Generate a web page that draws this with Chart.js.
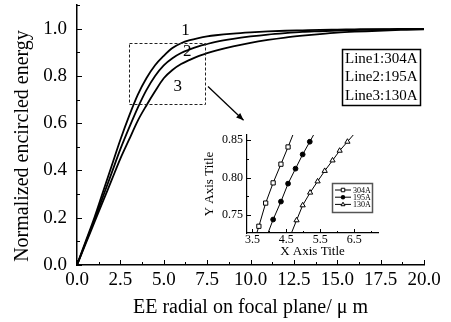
<!DOCTYPE html>
<html><head><meta charset="utf-8">
<script src="https://cdn.jsdelivr.net/npm/chart.js@4.4.1/dist/chart.umd.min.js"></script>
<style>
html,body{margin:0;padding:0;background:#fff;}
#wrap{position:relative;width:451px;height:322px;overflow:hidden;}
#main{position:absolute;left:0;top:0;}
#inset{position:absolute;left:195px;top:125px;}
</style></head><body>
<div id="wrap"><canvas id="main" width="451" height="322"></canvas><canvas id="inset" width="200" height="135"></canvas></div>
<script>
// ---------- data ----------
const RADIUS = [0,0.5,1,1.5,2,2.5,3,3.5,4,4.5,5,5.5,6,6.5,7,7.5,8,9,10,11,12,13,14,15,16,17,18,19,20];
const EE_304 = [0,0.10,0.20,0.31,0.42,0.53,0.63,0.72,0.79,0.845,0.885,0.918,0.938,0.951,0.96,0.967,0.972,0.979,0.984,0.988,0.991,0.993,0.995,0.996,0.997,0.998,0.998,0.999,0.999];
const EE_195 = [0,0.095,0.19,0.29,0.39,0.49,0.58,0.665,0.74,0.80,0.845,0.875,0.897,0.912,0.925,0.935,0.944,0.957,0.967,0.975,0.981,0.986,0.989,0.992,0.994,0.996,0.997,0.998,0.999];
const EE_130 = [0,0.09,0.18,0.27,0.36,0.45,0.53,0.61,0.675,0.735,0.79,0.825,0.85,0.868,0.884,0.896,0.907,0.925,0.94,0.952,0.962,0.97,0.977,0.983,0.987,0.99,0.993,0.995,0.997];
const SERIES_NAMES = ['Line1:304A','Line2:195A','Line3:130A'];
const CURVE_LABELS = ['1','2','3'];
const X_TICKS = ['0.0','2.5','5.0','7.5','10.0','12.5','15.0','17.5','20.0'];
const Y_TICKS = ['0.0','0.2','0.4','0.6','0.8','1.0'];
const X_TITLE = 'EE radial on focal plane/ \u03bc m';
const Y_TITLE = 'Normalized encircled energy';

// inset (zoomed view)
const INSET_X_304 = [3.63,3.69,3.89,4.11,4.34,4.55,4.69];
const INSET_Y_304 = [0.726,0.735,0.766,0.793,0.818,0.841,0.857];
const INSET_X_195 = [3.96,4.11,4.34,4.55,4.77,4.98,5.19,5.30];
const INSET_Y_195 = [0.726,0.744,0.768,0.792,0.812,0.831,0.848,0.857];
const INSET_X_130 = [4.65,4.80,4.98,5.20,5.42,5.63,5.86,6.07,6.30,6.47];
const INSET_Y_130 = [0.726,0.743,0.763,0.780,0.795,0.809,0.823,0.836,0.848,0.857];
const INSET_NAMES = ['304A','195A','130A'];
const INSET_X_TICKS = ['3.5','4.5','5.5','6.5'];
const INSET_Y_TICKS = ['0.75','0.80','0.85'];
const INSET_X_TITLE = 'X Axis Title';
const INSET_Y_TITLE = 'Y Axis Title';

// annotation anchors in data units
const ZOOM_BOX = {x0:3.0, x1:7.4, y0:0.68, y1:0.94};
const ARROW = {x0:7.55, y0:0.755, x1:9.6, y1:0.612};
const LABEL_POS = [[6.25,0.99],[6.35,0.905],[5.8,0.755]];

// ---------- helpers ----------
const FONT = "'Liberation Serif','Times New Roman',serif";
const pts = (xs, ys) => xs.map((x,i)=>({x, y:ys[i]}));
const noPad = s => { s.paddingTop=0; s.paddingBottom=0; s.paddingLeft=0; s.paddingRight=0; };

function drawMarker(ctx, style, x, y, r){
  ctx.beginPath();
  if(style==='circle'){ ctx.arc(x,y,r,0,Math.PI*2); ctx.fillStyle='#000'; ctx.fill(); }
  else if(style==='rect'){ ctx.rect(x-r*0.8,y-r*0.8,r*1.6,r*1.6); ctx.fillStyle='#fff'; ctx.fill(); ctx.stroke(); }
  else { ctx.moveTo(x,y-r); ctx.lineTo(x+r*0.9,y+r*0.6); ctx.lineTo(x-r*0.9,y+r*0.6); ctx.closePath(); ctx.fillStyle='#fff'; ctx.fill(); ctx.stroke(); }
}

function ticksPlugin(id, xMaj, yMaj, majLen, minLen){
  return { id, afterDraw(chart){
    const ctx=chart.ctx, xs=chart.scales.x, ys=chart.scales.y, a=chart.chartArea;
    ctx.save(); ctx.strokeStyle='#000'; ctx.lineWidth=1; ctx.beginPath();
    const xv = xMaj.map(parseFloat), yv = yMaj.map(parseFloat);
    const xstep = xv[1]-xv[0], ystep = yv[1]-yv[0];
    for(let v=xv[0]-xstep; v<=xs.max+1e-9; v+=xstep/2){
      if(v<xs.min-1e-9) continue;
      const major = xv.some(t=>Math.abs(t-v)<1e-6);
      const p=Math.round(xs.getPixelForValue(v))+0.5;
      ctx.moveTo(p,a.bottom); ctx.lineTo(p,a.bottom-(major?majLen:minLen));
    }
    for(let v=yv[0]-ystep; v<=ys.max+1e-9; v+=ystep/2){
      if(v<ys.min-1e-9) continue;
      const major = yv.some(t=>Math.abs(t-v)<1e-6);
      const p=Math.round(ys.getPixelForValue(v))+0.5;
      ctx.moveTo(a.left,p); ctx.lineTo(a.left+(major?majLen:minLen),p);
    }
    ctx.stroke(); ctx.restore();
  }};
}

const annoPlugin = { id:'anno', afterDraw(chart){
  const ctx=chart.ctx, xs=chart.scales.x, ys=chart.scales.y;
  ctx.save();
  ctx.strokeStyle='#222'; ctx.lineWidth=1; ctx.setLineDash([3,2]);
  const bx0=xs.getPixelForValue(ZOOM_BOX.x0), bx1=xs.getPixelForValue(ZOOM_BOX.x1);
  const by0=ys.getPixelForValue(ZOOM_BOX.y0), by1=ys.getPixelForValue(ZOOM_BOX.y1);
  ctx.strokeRect(Math.round(bx0)+0.5, Math.round(by1)+0.5, Math.round(bx1-bx0), Math.round(by0-by1));
  ctx.setLineDash([]);
  const ax0=xs.getPixelForValue(ARROW.x0), ay0=ys.getPixelForValue(ARROW.y0);
  const ax1=xs.getPixelForValue(ARROW.x1), ay1=ys.getPixelForValue(ARROW.y1);
  ctx.lineWidth=1.3; ctx.strokeStyle='#000'; ctx.beginPath(); ctx.moveTo(ax0,ay0); ctx.lineTo(ax1,ay1); ctx.stroke();
  const ang=Math.atan2(ay1-ay0, ax1-ax0), L=8, W=0.38;
  ctx.beginPath(); ctx.moveTo(ax1,ay1);
  ctx.lineTo(ax1-L*Math.cos(ang-W), ay1-L*Math.sin(ang-W));
  ctx.lineTo(ax1-L*Math.cos(ang+W), ay1-L*Math.sin(ang+W));
  ctx.closePath(); ctx.fillStyle='#000'; ctx.fill();
  ctx.font='17px '+FONT; ctx.textAlign='center'; ctx.textBaseline='middle'; ctx.fillStyle='#000';
  LABEL_POS.forEach((p,i)=>ctx.fillText(CURVE_LABELS[i], xs.getPixelForValue(p[0]), ys.getPixelForValue(p[1])));
  // main legend
  ctx.lineWidth=1.5; ctx.strokeStyle='#000'; ctx.strokeRect(342.5,49.5,78,56);
  ctx.font='15px '+FONT; ctx.textAlign='left';
  SERIES_NAMES.forEach((s,i)=>ctx.fillText(s, 345, 59+i*18.5));
  // y-axis title
  ctx.translate(23,146); ctx.rotate(-Math.PI/2);
  ctx.font='20px '+FONT; ctx.textAlign='center'; ctx.textBaseline='middle';
  ctx.fillText(Y_TITLE,0,0);
  ctx.restore();
}};

const baseLine = {borderColor:'#000', borderWidth:1.8, pointRadius:0, fill:false, cubicInterpolationMode:'monotone'};

new Chart(document.getElementById('main'), {
  type:'line',
  data:{datasets:[
    {...baseLine, label:SERIES_NAMES[0], data:pts(RADIUS,EE_304)},
    {...baseLine, label:SERIES_NAMES[1], data:pts(RADIUS,EE_195)},
    {...baseLine, label:SERIES_NAMES[2], data:pts(RADIUS,EE_130)}
  ]},
  options:{
    responsive:false, animation:false, events:[],
    layout:{padding:{left:0,right:27,top:5,bottom:0}},
    plugins:{legend:{display:false}, tooltip:{enabled:false}},
    scales:{
      x:{type:'linear', min:0, max:20,
        afterBuildTicks:s=>{s.ticks=X_TICKS.map(t=>({value:parseFloat(t)}));},
        afterFit:s=>{s.height=57; noPad(s);},
        grid:{display:false, drawTicks:false}, border:{display:true,color:'#000',width:1.5},
        ticks:{color:'#000', font:{family:FONT,size:19}, padding:4, maxRotation:0, autoSkip:false, callback:(v,i)=>X_TICKS[i]},
        title:{display:true, text:X_TITLE, color:'#000', font:{family:FONT,size:20}, padding:{top:0,bottom:2}}},
      y:{type:'linear', min:0, max:1.1,
        afterBuildTicks:s=>{s.ticks=Y_TICKS.map(t=>({value:parseFloat(t)}));},
        afterFit:s=>{s.width=77; noPad(s);},
        grid:{display:false, drawTicks:false}, border:{display:true,color:'#000',width:1.5},
        ticks:{color:'#000', font:{family:FONT,size:19}, padding:10, autoSkip:false, callback:(v,i)=>Y_TICKS[i]},
        title:{display:false, text:Y_TITLE}}
    }
  },
  plugins:[ticksPlugin('mt', X_TICKS, Y_TICKS, 5, 3), annoPlugin]
});

const INSET_STYLES=['rect','circle','triangle'];
const insetLegend = { id:'ilg', afterDraw(chart){
  const ctx=chart.ctx; ctx.save();
  ctx.strokeStyle='#555'; ctx.lineWidth=1.5; ctx.strokeRect(137.5,58.5,40,29);
  ctx.strokeStyle='#000'; ctx.lineWidth=1;
  ctx.font='8px '+FONT; ctx.textAlign='left'; ctx.textBaseline='middle'; ctx.fillStyle='#000';
  INSET_NAMES.forEach((n,i)=>{
    const y=65+i*7.2;
    ctx.beginPath(); ctx.moveTo(140,y); ctx.lineTo(156,y); ctx.stroke();
    drawMarker(ctx, INSET_STYLES[i], 148, y, 2.2);
    ctx.fillStyle='#000'; ctx.fillText(n, 158, y+0.5);
  });
  ctx.restore();
}};

const insetLine = (xs,ys,style)=>({data:pts(xs,ys), borderColor:'#000', borderWidth:1, fill:false,
  pointStyle:style, pointBorderColor:'#000', pointBorderWidth:1,
  pointBackgroundColor: style==='circle' ? '#000' : '#fff',
  pointRadius: ctx => (ctx.dataIndex===0 || ctx.dataIndex===xs.length-1) ? 0 : (style==='circle'?2.4:3)});

new Chart(document.getElementById('inset'), {
  type:'line',
  data:{datasets:[
    insetLine(INSET_X_304, INSET_Y_304, 'rect'),
    insetLine(INSET_X_195, INSET_Y_195, 'circle'),
    insetLine(INSET_X_130, INSET_Y_130, 'triangle')
  ]},
  options:{
    responsive:false, animation:false, events:[],
    layout:{padding:{left:0,right:17,top:10,bottom:0}},
    plugins:{legend:{display:false}, tooltip:{enabled:false}},
    scales:{
      x:{type:'linear', min:3.34, max:7.2,
        afterBuildTicks:s=>{s.ticks=INSET_X_TICKS.map(t=>({value:parseFloat(t)}));},
        afterFit:s=>{s.height=27; noPad(s);},
        grid:{display:false, drawTicks:false}, border:{display:true,color:'#000',width:1.2},
        ticks:{color:'#000', font:{family:FONT,size:12}, padding:0, maxRotation:0, autoSkip:false, callback:(v,i)=>INSET_X_TICKS[i]},
        title:{display:true, text:INSET_X_TITLE, color:'#000', font:{family:FONT,size:13}, padding:{top:0,bottom:1}}},
      y:{type:'linear', min:0.726, max:0.857,
        afterBuildTicks:s=>{s.ticks=INSET_Y_TICKS.map(t=>({value:parseFloat(t)}));},
        afterFit:s=>{s.width=52; noPad(s);},
        grid:{display:false, drawTicks:false}, border:{display:true,color:'#000',width:1.2},
        ticks:{color:'#000', font:{family:FONT,size:12}, padding:4, autoSkip:false, callback:(v,i)=>INSET_Y_TICKS[i]},
        title:{display:true, text:INSET_Y_TITLE, color:'#000', font:{family:FONT,size:13}, padding:{top:7,bottom:0}}}
    }
  },
  plugins:[ticksPlugin('it', INSET_X_TICKS, INSET_Y_TICKS, 4, 2), insetLegend]
});
</script>
</body></html>
